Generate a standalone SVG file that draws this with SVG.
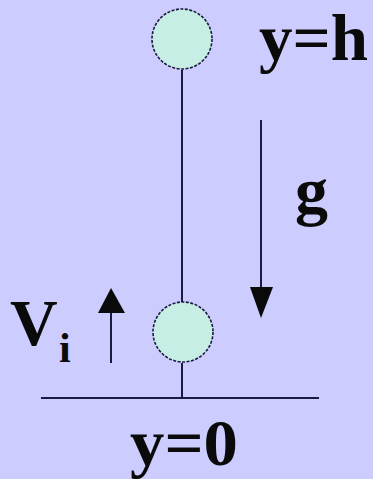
<svg xmlns="http://www.w3.org/2000/svg" width="373" height="479" viewBox="0 0 373 479">
<style>
.bg{fill:#CCCCFF}
.ln{stroke:#1a1a40;stroke-width:2;fill:none}
.ball{fill:#C6EEE4;stroke:#1a1a40;stroke-width:1.6;stroke-dasharray:3 1.5}
.t{font-family:"Liberation Serif","Times New Roman",serif;font-weight:bold;fill:#0a0a0a}
</style>
<rect class="bg" x="0" y="0" width="373" height="479"/>
<g id="connectors">
<line class="ln" x1="182" y1="70" x2="182" y2="302"/>
<line class="ln" x1="182" y1="363" x2="182" y2="398"/>
<line class="ln" x1="41" y1="398" x2="319" y2="398"/>
<line class="ln" x1="261" y1="120" x2="261" y2="290"/>
<polygon points="250,287 273,287 261,318" fill="#0a0a0a"/>
<line class="ln" x1="111" y1="363" x2="111" y2="310"/>
<polygon points="98,313 125,313 111,288" fill="#0a0a0a"/>
</g>
<g id="ball-top"><circle class="ball" cx="182" cy="39" r="30"/></g>
<g id="ball-bottom"><circle class="ball" cx="183" cy="332" r="30"/></g>
<g id="label-yh"><text class="t" x="259" y="60" font-size="66" textLength="109" lengthAdjust="spacingAndGlyphs">y=h</text></g>
<g id="label-g"><text class="t" x="295" y="213" font-size="66">g</text></g>
<g id="label-vi"><text class="t" x="10" y="345" font-size="66">V</text><text class="t" x="59" y="362" font-size="42">i</text></g>
<g id="label-y0"><text class="t" x="130" y="465" font-size="66" textLength="108" lengthAdjust="spacingAndGlyphs">y=0</text></g>
</svg>
